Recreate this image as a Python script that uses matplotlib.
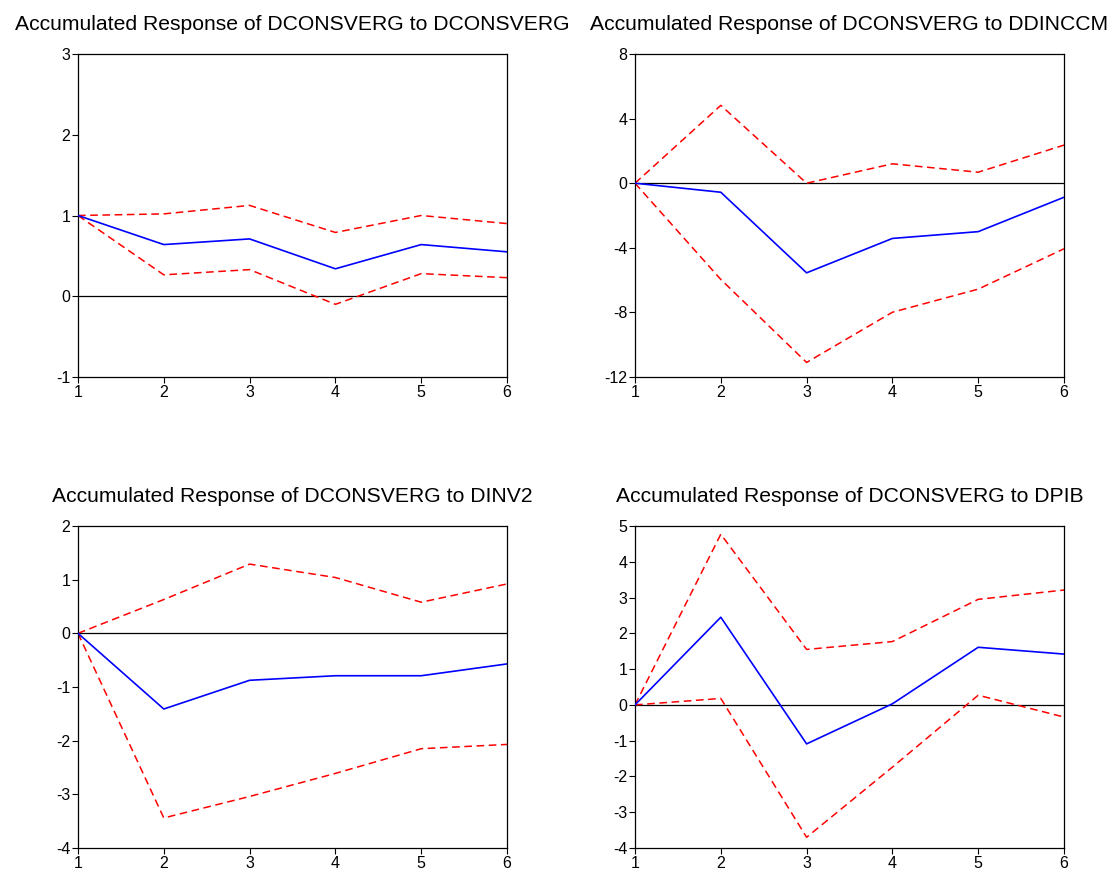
import matplotlib
matplotlib.use("Agg")
import matplotlib.pyplot as plt

plt.rcParams['font.family'] = ['Liberation Sans', 'DejaVu Sans']

periods = [1, 2, 3, 4, 5, 6]

titles = [
    "Accumulated Response of DCONSVERG to DCONSVERG",
    "Accumulated Response of DCONSVERG to DDINCCM",
    "Accumulated Response of DCONSVERG to DINV2",
    "Accumulated Response of DCONSVERG to DPIB",
]

resp_consverg = [1.0, 0.64, 0.71, 0.34, 0.64, 0.55]
upper_consverg = [1.0, 1.02, 1.125, 0.79, 1.0, 0.90]
lower_consverg = [1.0, 0.265, 0.33, -0.10, 0.28, 0.23]

resp_ddinccm = [0.0, -0.56, -5.55, -3.42, -3.0, -0.87]
upper_ddinccm = [0.0, 4.82, 0.0, 1.2, 0.68, 2.36]
lower_ddinccm = [0.0, -5.96, -11.1, -7.99, -6.56, -4.06]

resp_dinv2 = [0.0, -1.41, -0.875, -0.79, -0.79, -0.57]
upper_dinv2 = [0.0, 0.63, 1.29, 1.04, 0.58, 0.92]
lower_dinv2 = [0.0, -3.44, -3.04, -2.61, -2.15, -2.07]

resp_dpib = [0.0, 2.45, -1.09, 0.03, 1.61, 1.42]
upper_dpib = [0.0, 4.77, 1.55, 1.77, 2.95, 3.21]
lower_dpib = [0.0, 0.18, -3.70, -1.74, 0.27, -0.34]

yticks_list = [
    [-1, 0, 1, 2, 3],
    [-12, -8, -4, 0, 4, 8],
    [-4, -3, -2, -1, 0, 1, 2],
    [-4, -3, -2, -1, 0, 1, 2, 3, 4, 5],
]

series = [
    (resp_consverg, upper_consverg, lower_consverg),
    (resp_ddinccm, upper_ddinccm, lower_ddinccm),
    (resp_dinv2, upper_dinv2, lower_dinv2),
    (resp_dpib, upper_dpib, lower_dpib),
]

W, H = 1115, 874
fig = plt.figure(figsize=(W / 100, H / 100), dpi=100)

# axes boxes in pixels: left, top, right, bottom
boxes = [
    (78, 54, 507, 377),
    (635, 54, 1064, 377),
    (78, 526, 507, 848),
    (635, 526, 1064, 848),
]

for i, (box, (r, u, l), yt, t) in enumerate(zip(boxes, series, yticks_list, titles)):
    x0, y0, x1, y1 = box
    ax = fig.add_axes([x0 / W, 1 - y1 / H, (x1 - x0) / W, (y1 - y0) / H])
    ax.axhline(0, color='black', lw=0.9, zorder=1)
    ax.plot(periods, u, color='#ff0000', ls=(0, (5, 3)), lw=1.1, zorder=2)
    ax.plot(periods, l, color='#ff0000', ls=(0, (5, 3)), lw=1.1, zorder=2)
    ax.plot(periods, r, color='#0000ff', lw=1.2, zorder=3)
    ax.set_xlim(1, 6)
    ax.set_ylim(yt[0], yt[-1])
    ax.set_xticks(periods)
    ax.set_yticks(yt)
    ax.set_yticklabels([str(v) for v in yt])
    ax.tick_params(axis='both', direction='out', length=4, width=0.8,
                   labelsize=11.5, pad=1.5, top=False, right=False)
    for s in ax.spines.values():
        s.set_linewidth(0.9)
    ax.set_title(t, fontsize=15.2, pad=17)

fig.savefig("out.png", dpi=100, facecolor='white')
